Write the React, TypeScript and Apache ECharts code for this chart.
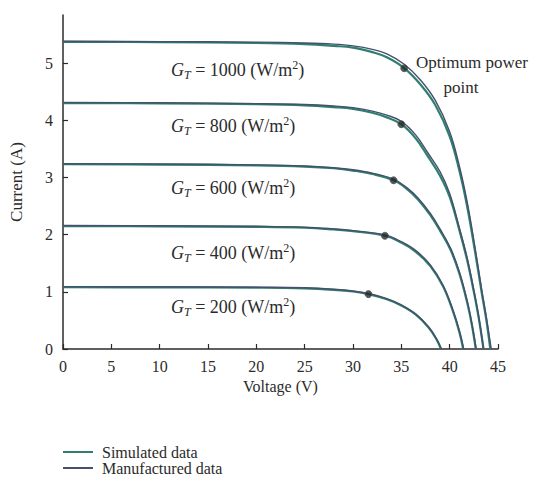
import React, { useEffect, useRef } from "react";
import * as echarts from "echarts";

// I–V curves of a PV module at five irradiance levels (voltage V, current A)
const irradiances = [1000, 800, 600, 400, 200];

const sim1000: [number, number][] = [[0, 5.37], [10, 5.365], [20, 5.35], [25, 5.33], [28, 5.3], [30, 5.27], [32, 5.19], [33.5, 5.1], [35.3, 4.91], [37, 4.62], [38.5, 4.27], [40, 3.72], [41, 3.12], [41.8, 2.5], [42.6, 1.73], [43.3, 1.0], [43.8, 0.5], [44.2, 0]];
const man1000: [number, number][] = [[0, 5.38], [10, 5.375], [20, 5.365], [25, 5.35], [28, 5.33], [30, 5.3], [32, 5.24], [33.5, 5.16], [35.3, 4.98], [37, 4.7], [38.5, 4.35], [40, 3.8], [41, 3.2], [41.8, 2.58], [42.6, 1.8], [43.3, 1.05], [43.8, 0.55], [44.3, 0]];

const sim800: [number, number][] = [[0, 4.3], [10, 4.295], [20, 4.28], [25, 4.26], [28, 4.23], [30, 4.2], [32, 4.13], [33.5, 4.05], [35, 3.93], [36.5, 3.68], [37.7, 3.38], [39, 3.03], [40, 2.66], [41, 2.08], [41.8, 1.56], [42.5, 1.0], [43, 0.55], [43.5, 0]];
const man800: [number, number][] = [[0, 4.31], [10, 4.305], [20, 4.29], [25, 4.275], [28, 4.25], [30, 4.22], [32, 4.16], [33.5, 4.09], [35, 3.98], [36.5, 3.74], [37.7, 3.44], [39, 3.1], [40, 2.72], [41, 2.12], [41.8, 1.6], [42.5, 1.03], [43, 0.57], [43.5, 0]];

const sim600: [number, number][] = [[0, 3.23], [10, 3.225], [20, 3.21], [25, 3.19], [28, 3.16], [30, 3.12], [32, 3.06], [34.2, 2.95], [35.5, 2.81], [36.7, 2.62], [38, 2.34], [39, 2.07], [40.1, 1.73], [41, 1.32], [41.8, 0.82], [42.3, 0.42], [42.7, 0]];
const man600: [number, number][] = [[0, 3.24], [10, 3.235], [20, 3.22], [25, 3.2], [28, 3.17], [30, 3.135], [32, 3.075], [34.2, 2.97], [35.5, 2.83], [36.7, 2.645], [38, 2.37], [39, 2.1], [40.1, 1.76], [41, 1.35], [41.8, 0.85], [42.3, 0.44], [42.75, 0]];

const sim400: [number, number][] = [[0, 2.15], [10, 2.145], [20, 2.135], [25, 2.12], [28, 2.09], [30, 2.06], [33.3, 1.98], [35, 1.86], [36.5, 1.7], [38, 1.45], [39.3, 1.1], [40.3, 0.68], [41, 0.3], [41.4, 0]];
const man400: [number, number][] = [[0, 2.16], [10, 2.155], [20, 2.145], [25, 2.13], [28, 2.1], [30, 2.07], [33.3, 1.995], [35, 1.875], [36.5, 1.72], [38, 1.47], [39.3, 1.12], [40.3, 0.7], [41, 0.32], [41.45, 0]];

const sim200: [number, number][] = [[0, 1.08], [10, 1.078], [20, 1.072], [25, 1.06], [28, 1.035], [30, 1.005], [31.6, 0.96], [33.5, 0.87], [35, 0.76], [36.5, 0.6], [37.8, 0.38], [38.6, 0.18], [39.1, 0]];
const man200: [number, number][] = [[0, 1.09], [10, 1.088], [20, 1.08], [25, 1.07], [28, 1.045], [30, 1.015], [31.6, 0.97], [33.5, 0.88], [35, 0.77], [36.5, 0.61], [37.8, 0.39], [38.6, 0.19], [39.15, 0]];

// Optimum (maximum) power points
const mppVoltage = [35.3, 35.0, 34.2, 33.3, 31.6];
const mppCurrent = [4.91, 3.93, 2.95, 1.98, 0.96];

const simulated = [sim1000, sim800, sim600, sim400, sim200];
const manufactured = [man1000, man800, man600, man400, man200];

const currentTicks = [0, 1, 2, 3, 4, 5];

const SIM = "#2f7f6f";
const MAN = "#44506e";
const INK = "#2b2b2b";
const SERIF = "'Liberation Serif', 'DejaVu Serif', serif";
const serifFont = (size: number, italic = false) =>
  `${italic ? "italic " : ""}${size}px ${SERIF}`;

export default function App() {
  const ref = useRef<HTMLDivElement>(null);

  useEffect(() => {
    if (!ref.current) return;
    const chart = echarts.init(ref.current, undefined, { renderer: "svg" });

    const series: any[] = [];
    simulated.forEach((d) => {
      series.push({
        type: "line",
        name: "Simulated data",
        data: d,
        smooth: 0.4,
        showSymbol: false,
        lineStyle: { color: SIM, width: 2.2 },
        itemStyle: { color: SIM },
        z: 2,
      });
    });
    manufactured.forEach((d) => {
      series.push({
        type: "line",
        name: "Manufactured data",
        data: d,
        smooth: 0.4,
        showSymbol: false,
        lineStyle: { color: MAN, width: 1.4 },
        itemStyle: { color: MAN },
        z: 3,
      });
    });
    series.push({
      type: "scatter",
      name: "mpp",
      data: mppVoltage.map((v, i) => [v, mppCurrent[i]]),
      symbolSize: 7,
      itemStyle: { color: "#222a2a", borderColor: "#555", borderWidth: 1 },
      z: 5,
    });

    const labelTops = [70, 126, 188, 253, 307];
    const rich = {
      g: { font: serifFont(18, true), fill: INK, lineHeight: 22 },
      t: { font: serifFont(12, true), fill: INK, lineHeight: 10, verticalAlign: "bottom" },
      n: { font: serifFont(18), fill: INK, lineHeight: 22 },
      s: { font: serifFont(12), fill: INK, lineHeight: 12, verticalAlign: "top" },
    };
    const labels = irradiances.map((g, i) => ({
      type: "text",
      x: 171,
      y: labelTops[i],
      style: {
        text: `{g|G}{t|T}{n| = ${g} (W/m}{s|2}{n|)}`,
        rich,
        font: serifFont(18),
        fill: INK,
        verticalAlign: "middle",
        align: "left",
      },
    }));

    chart.setOption({
      animation: false,
      backgroundColor: "#ffffff",
      textStyle: { fontFamily: SERIF, color: INK },
      grid: { left: 59, top: 15, width: 439, height: 334, containLabel: false },
      xAxis: {
        type: "value",
        min: 0,
        max: 45,
        interval: 5,
        name: "Voltage (V)",
        nameLocation: "middle",
        nameGap: 29,
        nameTextStyle: { fontFamily: SERIF, fontSize: 16, color: INK },
        axisLine: { lineStyle: { color: INK, width: 1.5 } },
        axisTick: { inside: true, length: 5, lineStyle: { color: INK, width: 1.2 } },
        axisLabel: { fontFamily: SERIF, fontSize: 16, color: INK, margin: 9 },
        splitLine: { show: false },
      },
      yAxis: {
        type: "value",
        min: 0,
        max: 5.84,
        name: "Current (A)",
        nameLocation: "middle",
        nameGap: 38,
        nameRotate: 90,
        nameTextStyle: { fontFamily: SERIF, fontSize: 17, color: INK },
        axisLine: { show: true, lineStyle: { color: INK, width: 1.5 } },
        axisTick: { inside: true, length: 5, customValues: currentTicks, lineStyle: { color: INK, width: 1.2 } },
        axisLabel: { fontFamily: SERIF, fontSize: 16, color: INK, margin: 10, customValues: currentTicks },
        splitLine: { show: false },
      },
      legend: {
        data: ["Simulated data", "Manufactured data"],
        orient: "vertical",
        left: 58,
        top: 439,
        itemWidth: 30,
        itemHeight: 2,
        itemGap: 0,
        icon: "rect",
        textStyle: { fontFamily: SERIF, fontSize: 16, color: INK, lineHeight: 16, padding: [0, 0, 0, 4] },
      },
      graphic: [
        ...labels,
        {
          type: "text",
          x: 416,
          y: 62,
          style: { text: "Optimum power", font: serifFont(17), fill: INK, verticalAlign: "middle", align: "left" },
        },
        {
          type: "text",
          x: 461,
          y: 87,
          style: { text: "point", font: serifFont(17), fill: INK, verticalAlign: "middle", align: "center" },
        },
      ],
      series,
    });

    return () => chart.dispose();
  }, []);

  return (
    <div
      ref={ref}
      style={{ position: "fixed", left: 0, top: 0, width: 541, height: 482, background: "#fff" }}
    />
  );
}
